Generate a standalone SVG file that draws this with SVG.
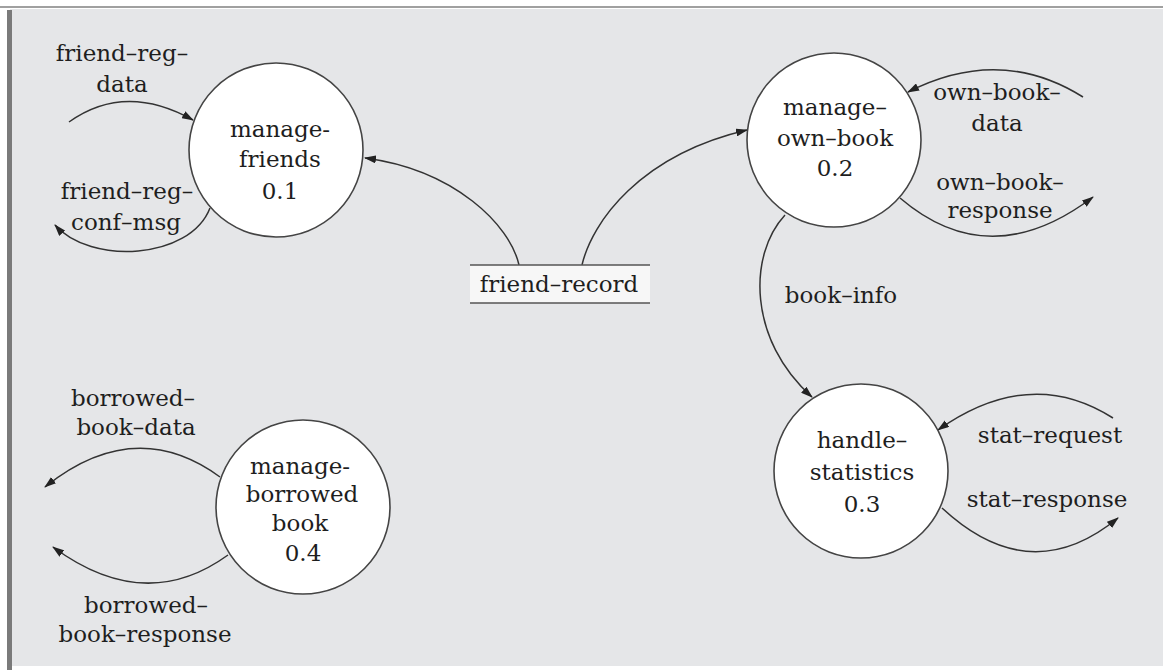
<svg xmlns="http://www.w3.org/2000/svg" width="1163" height="670" viewBox="0 0 1163 670">
<defs>
<marker id="ah" markerWidth="12" markerHeight="8" refX="11" refY="4" orient="auto" markerUnits="userSpaceOnUse">
<path d="M0,0 L12,4 L0,8 Z" fill="#222"/>
</marker>
<style>
.t{font-family:"DejaVu Serif","Liberation Serif",serif;font-size:23px;fill:#1e1e1e;text-anchor:middle}
.n{fill:#ffffff;stroke:#444;stroke-width:1.6}
.c{fill:none;stroke:#333;stroke-width:1.5;marker-end:url(#ah)}
.s{stroke:#555;stroke-width:1.6}
</style>
</defs>
<rect x="0" y="0" width="1163" height="670" fill="#ffffff"/>
<rect x="0" y="6" width="1163" height="2" fill="#a0a0a0"/>
<rect x="10" y="9" width="1153" height="657" fill="#e5e6e8"/>
<rect x="7" y="10" width="5" height="660" fill="#7a7a7a"/>

<g id="connectors">
<path class="c" d="M69,122 Q125,82 193,120"/>
<path class="c" d="M210,208 C190,260 90,265 55,225"/>
<path class="c" d="M519,265 C510,225 455,170 365,158"/>
<path class="c" d="M582,265 C592,222 640,155 747,130"/>
<path class="c" d="M1083,97 Q1000,45 908,92"/>
<path class="c" d="M900,198 Q990,275 1093,197"/>
<path class="c" d="M785,215 C748,255 748,340 812,397"/>
<path class="c" d="M1113,418 Q1030,365 938,430"/>
<path class="c" d="M942,508 Q1030,590 1118,518"/>
<path class="c" d="M220,477 Q135,415 45,487"/>
<path class="c" d="M228,555 Q145,615 53,547"/>
</g>

<g id="labels">
<text class="t" x="122" y="61">friend–reg–</text>
<text class="t" x="122" y="92">data</text>
<text class="t" x="127" y="199">friend–reg–</text>
<text class="t" x="126" y="230">conf–msg</text>
<text class="t" x="997" y="100">own–book–</text>
<text class="t" x="997" y="131">data</text>
<text class="t" x="1000" y="190">own–book–</text>
<text class="t" x="1000" y="218">response</text>
<text class="t" x="841" y="303">book–info</text>
<text class="t" x="1050" y="443">stat–request</text>
<text class="t" x="1047" y="507">stat–response</text>
<text class="t" x="133" y="406">borrowed–</text>
<text class="t" x="136" y="435">book–data</text>
<text class="t" x="146" y="613">borrowed–</text>
<text class="t" x="145" y="642">book–response</text>
</g>

<g id="friend-record">
<rect x="470" y="265" width="180" height="38" fill="#f7f7f7"/>
<line class="s" x1="470" y1="265" x2="650" y2="265"/>
<line class="s" x1="470" y1="303" x2="650" y2="303"/>
<text class="t" x="559" y="292">friend–record</text>
</g>

<g id="manage-friends">
<circle class="n" cx="276" cy="150" r="87"/>
<text class="t" x="280" y="137">manage-</text>
<text class="t" x="280" y="167">friends</text>
<text class="t" x="280" y="199">0.1</text>
</g>

<g id="manage-own-book">
<circle class="n" cx="834" cy="140" r="87"/>
<text class="t" x="835" y="115">manage–</text>
<text class="t" x="835" y="146">own–book</text>
<text class="t" x="835" y="176">0.2</text>
</g>

<g id="handle-statistics">
<circle class="n" cx="861" cy="471" r="87"/>
<text class="t" x="862" y="448">handle–</text>
<text class="t" x="862" y="480">statistics</text>
<text class="t" x="862" y="512">0.3</text>
</g>

<g id="manage-borrowed-book">
<circle class="n" cx="303" cy="507" r="87"/>
<text class="t" x="300" y="474">manage-</text>
<text class="t" x="302" y="502">borrowed</text>
<text class="t" x="300" y="531">book</text>
<text class="t" x="303" y="561">0.4</text>
</g>
</svg>
